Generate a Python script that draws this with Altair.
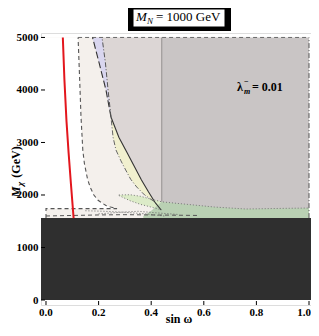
import altair as alt
import pandas as pd

# ---------------- data ----------------
x_ticks = [0.0, 0.2, 0.4, 0.6, 0.8, 1.0]
x_labels = ["0.0", "0.2", "0.4", "0.6", "0.8", "1.0"]
y_ticks = [0, 1000, 2000, 3000, 4000, 5000]

# red curve
red_x = [0.105, 0.095, 0.086, 0.078, 0.070, 0.064]
red_y = [1560, 2200, 2800, 3400, 4200, 5000]

# white (allowed) region: from left frame to dashed boundary
white_y = [1560, 1739, 1740, 1770, 1800, 1850, 1900, 2000, 2150, 2300, 2600, 2850, 3500, 4200, 5000]
white_x2 = [0.0, 0.0, 0.27, 0.245, 0.228, 0.212, 0.198, 0.182, 0.168, 0.158, 0.146, 0.14, 0.133, 0.128, 0.122]

# black boundary curve C
c_y = [1714, 1848, 2057, 2286, 2570, 2820, 3100, 3486, 4000, 4514, 5000]
c_x = [0.438, 0.416, 0.39, 0.363, 0.333, 0.307, 0.277, 0.247, 0.228, 0.202, 0.177]

# purple sliver (between C and dash-dot D)
pur_y = [3486, 4000, 4514, 5000]
pur_x1 = [0.247, 0.228, 0.202, 0.177]
pur_x2 = [0.247, 0.236, 0.226, 0.213]

# yellow sliver (between dash-dot E and C)
yel_y = [1880, 2000, 2152, 2300, 2476, 2650, 2857, 3100, 3486]
yel_x1 = [0.41, 0.375, 0.345, 0.322, 0.303, 0.285, 0.266, 0.255, 0.247]
yel_x2 = [0.41, 0.397, 0.377, 0.362, 0.343, 0.323, 0.303, 0.277, 0.247]

# light green lens
lg_x = [0.277, 0.32, 0.36, 0.40, 0.44]
lg_lo = [1990, 1890, 1820, 1770, 1715]
lg_hi = [2000, 2005, 1975, 1920, 1870]

# green band
gr_x = [0.37, 0.40, 0.44, 0.50, 0.64, 0.76, 0.90, 1.00]
gr_lo = [1560, 1560, 1560, 1560, 1560, 1560, 1560, 1560]
gr_hi = [1600, 1700, 1870, 1840, 1771, 1733, 1745, 1752]

# dotted top of the green region
gd_x = [0.277, 0.32, 0.36, 0.40, 0.44, 0.50, 0.64, 0.76, 0.90, 1.00]
gd_y = [2000, 2005, 1975, 1920, 1870, 1840, 1771, 1733, 1745, 1752]

# dotted / dashed bundle near the bottom
b1_x = [0.0, 0.10, 0.20, 0.30, 0.40, 0.50, 0.58]
b1_y = [1600, 1610, 1620, 1625, 1620, 1615, 1610]
b2_x = [0.15, 0.22, 0.30, 0.38, 0.45]
b2_y = [1700, 1690, 1670, 1640, 1600]
b3_x = [0.20, 0.28, 0.35, 0.42, 0.50]
b3_y = [1640, 1670, 1690, 1660, 1630]

# ---------------- scales / axes ----------------
X_DOM = [-0.019, 1.0076]
Y_DOM = [-95, 5085]
W, H = 270, 272
xs = alt.Scale(domain=X_DOM, nice=False, zero=False)
ys = alt.Scale(domain=Y_DOM, nice=False, zero=False)
FONT = "Liberation Serif, Times New Roman, serif"
xax = alt.Axis(values=x_ticks, title=None, grid=False, domain=False, ticks=False, labels=False)
yax = alt.Axis(values=y_ticks, format="d", title=None, grid=False, domain=False, ticks=False,
               labelFont=FONT, labelFontWeight="bold", labelFontSize=11, labelColor="black",
               labelPadding=3)


def X(f):
    return alt.X(f"{f}:Q", scale=xs, axis=xax)


def Y(f):
    return alt.Y(f"{f}:Q", scale=ys, axis=yax)


def harea(ylist, x1, x2, color):
    df = pd.DataFrame({"y": ylist, "x1": x1, "x2": x2})
    return alt.Chart(df).mark_area(orient="horizontal", color=color, clip=True).encode(
        y=Y("y"), x=X("x1"), x2="x2:Q")


def varea(xlist, y1, y2, color):
    df = pd.DataFrame({"x": xlist, "y1": y1, "y2": y2})
    return alt.Chart(df).mark_area(orient="vertical", color=color, clip=True).encode(
        x=X("x"), y=Y("y1"), y2="y2:Q")


def rect(x1, x2, y1, y2, color):
    df = pd.DataFrame({"x1": [x1], "x2": [x2], "y1": [y1], "y2": [y2]})
    return alt.Chart(df).mark_rect(color=color, clip=True).encode(
        x=X("x1"), x2="x2:Q", y=Y("y1"), y2="y2:Q")


def line(xl, yl, color, width, dash=None):
    df = pd.DataFrame({"x": xl, "y": yl, "i": list(range(len(xl)))})
    kw = dict(color=color, strokeWidth=width, clip=True)
    if dash:
        kw["strokeDash"] = dash
    return alt.Chart(df).mark_line(**kw).encode(x=X("x"), y=Y("y"), order="i:Q")


def txt(s, px, py, size, style="normal", weight="normal", align="left", angle=0,
        baseline="alphabetic"):
    return alt.Chart(pd.DataFrame({"t": [s]})).mark_text(
        font=FONT, fontSize=size, fontStyle=style, fontWeight=weight, align=align,
        baseline=baseline, angle=angle, color="black").encode(
        x=alt.value(px), y=alt.value(py), text="t:N")


def pxrect(x1, x2, y1, y2, fill, stroke=None):
    kw = dict(fill=fill)
    if stroke:
        kw["stroke"] = stroke
        kw["strokeWidth"] = 1
    return alt.Chart(pd.DataFrame({"a": [0]})).mark_rect(**kw).encode(
        x=alt.value(x1), x2=alt.value(x2), y=alt.value(y1), y2=alt.value(y2))


xlab_df = pd.DataFrame({"v": x_ticks[:-1], "t": x_labels[:-1]})

layers = [
    rect(0.0, 0.44, 1560, 5000, "#f4f0ec"),
    harea(white_y, [X_DOM[0]] * len(white_y), white_x2, "#ffffff"),
    harea(c_y, c_x, [0.44] * len(c_y), "#dcd6d5"),
    rect(0.44, 1.0, 1560, 5000, "#c9c5c5"),
    harea(pur_y, pur_x1, pur_x2, "#d9d6ef"),
    varea(lg_x, lg_lo, lg_hi, "#dcebc8"),
    harea(yel_y, yel_x1, yel_x2, "#f1f0cf"),
    varea(gr_x, gr_lo, gr_hi, "#b9d0b3"),
    rect(X_DOM[0], X_DOM[1], 0, 1560, "#2f2f2f"),
    # boundaries
    line([0.44, 0.44], [1870, 5000], "#9e9a9a", 1.2),
    line([0.122, 1.0], [5000, 5000], "#6a6a6a", 1, [4, 3]),
    line([1.0, 1.0], [1560, 5000], "#555555", 1, [5, 2, 1, 2]),
    line([0.0, 0.0] + white_x2[2:], [1560, 1740] + white_y[2:], "#555555", 1.1, [4, 3]),
    line(c_x[7:], c_y[7:], "#333333", 1.1, [7, 3]),
    line(c_x[:8], c_y[:8], "#333333", 1.1),
    line(pur_x2, pur_y, "#555555", 1, [5, 2, 1, 2]),
    line(yel_x1, yel_y, "#666666", 1, [5, 2, 1, 2]),
    line(gd_x, gd_y, "#777777", 1, [1, 2]),
    line(lg_x, lg_lo, "#777777", 1, [1, 2]),
    line(b1_x, b1_y, "#555555", 1, [4, 3]),
    line(b2_x, b2_y, "#666666", 1, [1, 2]),
    line(b3_x, b3_y, "#666666", 1, [1, 2]),
    line(red_x, red_y, "#e3161d", 2),
    # ticks (inward)
    alt.Chart(pd.DataFrame({"v": x_ticks})).mark_rule(color="black").encode(
        x=X("v"), y=alt.value(H), y2=alt.value(H - 4)),
    alt.Chart(pd.DataFrame({"v": y_ticks})).mark_rule(color="black").encode(
        y=Y("v"), x=alt.value(0), x2=alt.value(4)),
    # x tick labels
    alt.Chart(xlab_df).mark_text(font=FONT, fontSize=11, fontWeight="bold", color="black",
                                 baseline="middle", align="center").encode(
        x=X("v"), y=alt.value(280), text="t:N"),
    txt(x_labels[-1], W, 280, 11, weight="bold", align="right", baseline="middle"),
    # lambda label
    txt("λ", 196, 58, 12, weight="bold"),
    txt("m", 203, 61, 8, style="italic", weight="bold"),
    txt("−", 203, 51, 8, weight="bold"),
    txt("= 0.01", 211, 58, 12, weight="bold"),
    # title box
    pxrect(87, 190, -25, -2, "black"),
    pxrect(92, 184, -24, -6, "white", "black"),
    txt("M", 95, -12, 13, style="italic"),
    txt("N", 106, -9, 9, style="italic"),
    txt("= 1000 GeV", 115, -12, 13),
    # axis titles
    txt("sin ω", 138, 286, 12, weight="bold", align="center", baseline="middle"),
    txt("M", -25, 159, 12, style="italic", weight="bold", align="center", angle=270, baseline="middle"),
    txt("χ", -21, 151, 9, style="italic", weight="bold", align="center", angle=270, baseline="middle"),
    txt("(GeV)", -25, 129, 12, weight="bold", align="center", angle=270, baseline="middle"),
]

chart = alt.layer(*layers).properties(
    width=W, height=H,
    padding={"left": 33, "top": 25, "right": 0, "bottom": 23},
    autosize=alt.AutoSizeParams(type="none"),
).configure_view(stroke="black", strokeWidth=1.5).configure(background="white")

chart.save("out.html", embed_options={"renderer": "svg", "actions": False})
